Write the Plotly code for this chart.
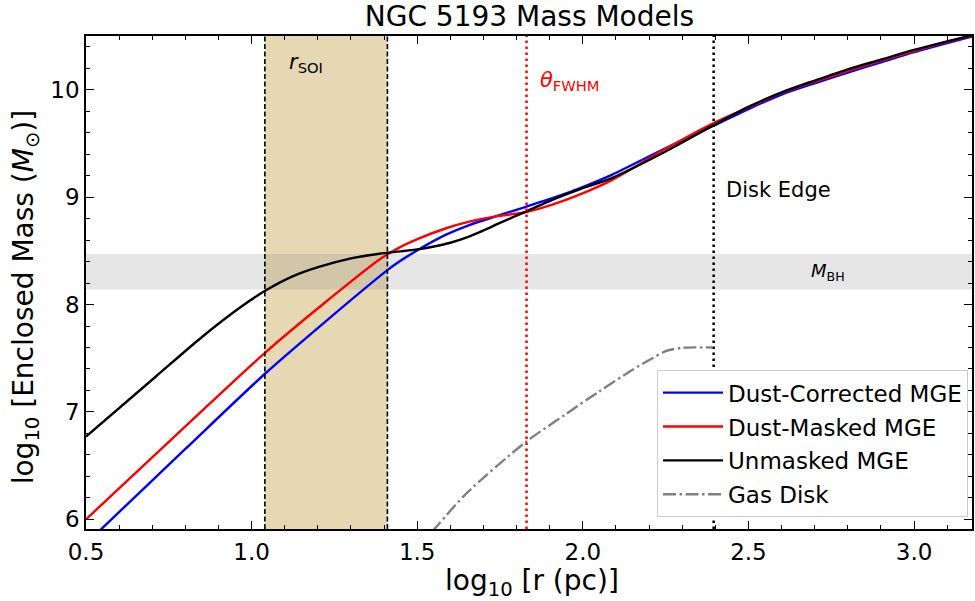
import plotly.graph_objects as go

# ---- data ----
blue_x = [0.50, 0.543, 0.80, 1.042, 1.23, 1.41, 1.446, 1.506, 1.587, 1.657, 1.737, 1.828, 1.908,
          1.988, 2.089, 2.24, 2.395, 2.50, 2.60, 2.70, 2.80, 2.90, 3.00, 3.10, 3.18]
blue_y = [5.77, 5.90, 6.655, 7.36, 7.86, 8.32, 8.40, 8.515, 8.65, 8.74, 8.82, 8.91, 8.99,
          9.08, 9.21, 9.44, 9.665, 9.82, 9.955, 10.06, 10.16, 10.255, 10.35, 10.435, 10.50]

red_x = [0.50, 0.80, 1.042, 1.23, 1.386, 1.446, 1.506, 1.587, 1.657, 1.737, 1.828, 1.908,
         1.988, 2.089, 2.25, 2.395, 2.50, 2.60, 2.70, 2.80, 2.90, 3.00, 3.10, 3.18]
red_y = [6.00, 6.865, 7.555, 8.04, 8.42, 8.53, 8.615, 8.71, 8.772, 8.82, 8.86, 8.93,
         9.02, 9.16, 9.45, 9.69, 9.835, 9.97, 10.075, 10.175, 10.27, 10.36, 10.445, 10.505]

black_x = [0.50, 0.711, 0.851, 0.962, 1.042, 1.122, 1.203, 1.30, 1.386, 1.45, 1.506, 1.55, 1.60,
           1.65, 1.70, 1.75, 1.828, 1.908, 1.988, 2.089, 2.25, 2.395, 2.50, 2.60, 2.70, 2.80,
           2.90, 3.00, 3.10, 3.18]
black_y = [6.77, 7.33, 7.70, 7.965, 8.13, 8.26, 8.35, 8.43, 8.473, 8.495, 8.516, 8.54, 8.575,
           8.625, 8.69, 8.76, 8.865, 8.975, 9.07, 9.18, 9.425, 9.67, 9.84, 9.975, 10.085, 10.19,
           10.28, 10.37, 10.45, 10.51]

gas_x = [1.50, 1.562, 1.648, 1.828, 1.949, 2.049, 2.149, 2.21, 2.25, 2.30, 2.39]
gas_y = [5.73, 5.945, 6.24, 6.72, 6.98, 7.19, 7.39, 7.50, 7.565, 7.597, 7.60]

series_names = ["Dust-Corrected MGE", "Dust-Masked MGE", "Unmasked MGE", "Gas Disk"]

r_soi = [1.04, 1.41]
theta_fwhm = 1.83
disk_edge = 2.395
m_bh_band = [8.14, 8.47]

x_range = [0.5, 3.175]
y_range = [5.91, 10.5]

FONT = "DejaVu Sans"

fig = go.Figure()

# bands
fig.add_shape(type="rect", xref="x", yref="paper", x0=r_soi[0], x1=r_soi[1], y0=0, y1=1,
              fillcolor="#E6D8B3", line_width=0, layer="below")
fig.add_shape(type="rect", xref="paper", yref="y", x0=0, x1=1, y0=m_bh_band[0], y1=m_bh_band[1],
              fillcolor="rgba(128,128,128,0.2)", line_width=0, layer="below")

for i, (xs, ys, col, dash) in enumerate([
        (blue_x, blue_y, "#0000ff", "solid"),
        (red_x, red_y, "#ff0000", "solid"),
        (black_x, black_y, "#000000", "solid"),
        (gas_x, gas_y, "#808080", "13px,3.5px,2.5px,3.5px")]):
    fig.add_trace(go.Scatter(x=xs, y=ys, mode="lines", name=series_names[i],
                             legendgroup=f"g{i}",
                             line=dict(color=col, width=2.4, dash=dash, shape="spline", smoothing=0.8)))

# vertical lines
for xv in r_soi:
    fig.add_shape(type="line", xref="x", yref="paper", x0=xv, x1=xv, y0=0, y1=1,
                  line=dict(color="black", width=1.6, dash="5px,2.5px"))
fig.add_shape(type="line", xref="x", yref="paper", x0=theta_fwhm, x1=theta_fwhm, y0=0, y1=1,
              line=dict(color="#ff0000", width=2.5, dash="2.5px,3.5px"))
fig.add_shape(type="line", xref="x", yref="paper", x0=disk_edge, x1=disk_edge, y0=0, y1=1,
              line=dict(color="black", width=2.5, dash="2.5px,3.5px"))

# annotations
fig.add_annotation(x=1.165, y=10.25, text="<i>r</i><sub>SOI</sub>", showarrow=False,
                   font=dict(family=FONT, size=21, color="black"))
fig.add_annotation(x=1.96, y=10.08, text="<i>θ</i><sub>FWHM</sub>", showarrow=False,
                   font=dict(family=FONT, size=21, color="#ff0000"))
fig.add_annotation(x=2.592, y=9.07, text="Disk Edge", showarrow=False,
                   font=dict(family=FONT, size=21, color="black"))
fig.add_annotation(x=2.74, y=8.30, text="<i>M</i><sub>BH</sub>", showarrow=False,
                   font=dict(family=FONT, size=18, color="black"))

# axis titles
fig.add_annotation(xref="paper", yref="paper", x=0.503, y=0, yshift=-53, xanchor="center", yanchor="middle",
                   text="log<sub>10</sub> [r (pc)]", showarrow=False,
                   font=dict(family=FONT, size=28, color="black"))
fig.add_annotation(xref="paper", yref="paper", x=0, y=0.47, xshift=-61, xanchor="center", yanchor="middle",
                   textangle=-90, text="log<sub>10</sub> [Enclosed Mass (<i>M</i><sub>⊙</sub>)]",
                   showarrow=False, font=dict(family=FONT, size=28, color="black"))

axis_common = dict(showline=True, linecolor="black", linewidth=1.5, mirror="allticks",
                   ticks="inside", ticklen=8, tickwidth=1.3, tickcolor="black",
                   showgrid=False, zeroline=False, automargin=False,
                   tickfont=dict(family=FONT, size=23, color="black"))

fig.update_xaxes(range=x_range, dtick=0.5, tick0=0.5, tickformat=".1f", ticklabelstandoff=2,
                 minor=dict(ticks="inside", ticklen=4.5, dtick=0.1, tick0=0.5, tickcolor="black", showgrid=False),
                 **axis_common)
fig.update_yaxes(range=y_range, dtick=1, tick0=6,
                 minor=dict(ticks="inside", ticklen=4.5, dtick=0.2, tick0=6, tickcolor="black", showgrid=False),
                 **axis_common)

fig.update_layout(
    width=975, height=601,
    margin=dict(l=86, r=3, t=36, b=72),
    paper_bgcolor="white", plot_bgcolor="white",
    title=dict(text="NGC 5193 Mass Models", x=0.543, xanchor="center", y=0.973, yanchor="middle",
               font=dict(family=FONT, size=28, color="black")),
    legend=dict(x=0.9955, y=0.024, xanchor="right", yanchor="bottom",
                bgcolor="white", bordercolor="#cccccc", borderwidth=1,
                font=dict(family=FONT, size=23, color="black"), tracegroupgap=1,
                itemwidth=60, traceorder="grouped"),
    showlegend=True,
)

fig.write_html("out.html", config={"displayModeBar": False},
               post_script="document.body.style.margin='0';document.body.style.padding='0';")
